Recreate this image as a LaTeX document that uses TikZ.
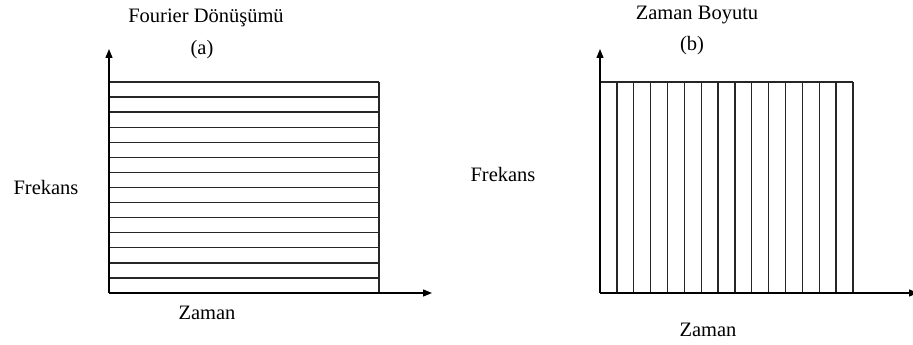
\documentclass[tikz,border=0pt]{standalone}
\usepackage{fontspec}
\setmainfont{Liberation Serif}
\usetikzlibrary{arrows.meta}
\begin{document}
\begin{tikzpicture}[x=1pt,y=-1pt,
  lbl/.style={font=\fontsize{20.5}{24}\selectfont, inner sep=0pt},
  axis/.style={line width=1.3pt, -{Triangle[length=9pt,width=7pt]}},
  grid line/.style={line width=1.3pt, draw=black!85}]
\useasboundingbox (0,0) rectangle (913,345);

% ---- panel (a): horizontal strips ----
\coordinate (oa) at (109,293);
\coordinate (ya) at (109,49);
\coordinate (xa) at (432,293);
\foreach \i in {0,...,14}{
  \draw[grid line] (109,{82+\i*211/14}) -- (379,{82+\i*211/14});
}
\draw[grid line] (379,82) -- (379,293);
\draw[axis] (oa) -- (ya);
\draw[axis] (oa) -- (xa);
\node[lbl] (ta) at (206,18) {Fourier Dönüşümü};
\node[lbl] (la) at (202,50) {(a)};
\node[lbl] (fa) at (46,187) {Frekans};
\node[lbl] (za) at (207,313) {Zaman};

% ---- panel (b): vertical strips ----
\coordinate (ob) at (600,293);
\coordinate (yb) at (600,49);
\coordinate (xb) at (918,293);
\foreach \i in {0,...,15}{
  \draw[grid line] ({600+\i*253/15},82) -- ({600+\i*253/15},293);
}
\draw[grid line] (600,82) -- (853,82);
\draw[axis] (ob) -- (yb);
\draw[axis] (ob) -- (xb);
\node[lbl] (tb) at (697,15) {Zaman Boyutu};
\node[lbl] (lb) at (692,46) {(b)};
\node[lbl] (fb) at (503,174) {Frekans};
\node[lbl] (zb) at (708,330) {Zaman};
\end{tikzpicture}
\end{document}
